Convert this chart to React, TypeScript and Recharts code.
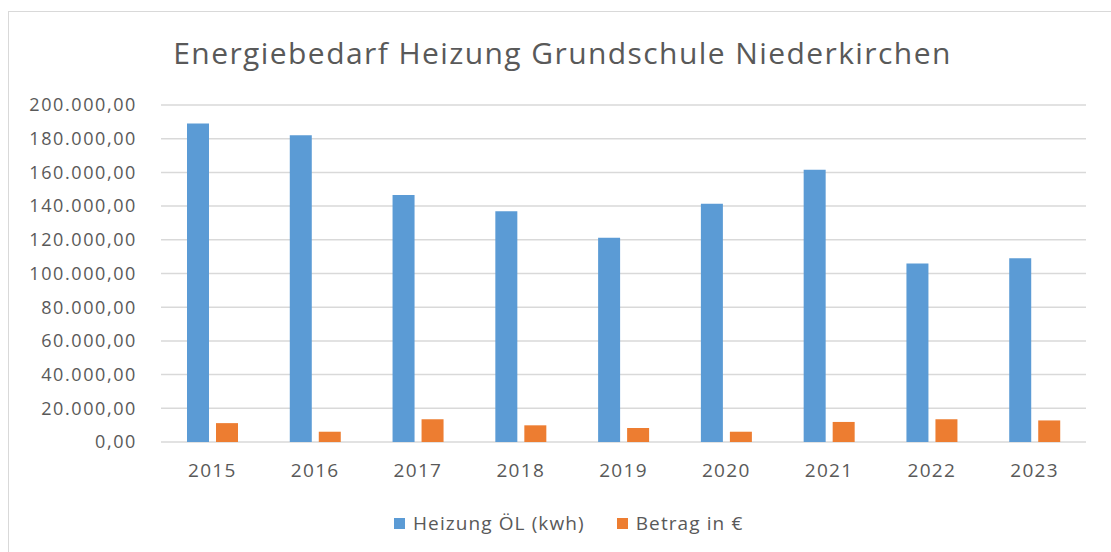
import React from 'react'
import { BarChart, Bar, XAxis, YAxis, CartesianGrid } from 'recharts'

const years = ['2015', '2016', '2017', '2018', '2019', '2020', '2021', '2022', '2023']
const heizungOel = [189000, 182000, 146600, 137000, 121200, 141400, 161600, 106000, 109000]
const betragEuro = [11200, 6100, 13500, 9900, 8300, 6100, 11900, 13500, 12800]
const yTicks = [0, 20000, 40000, 60000, 80000, 100000, 120000, 140000, 160000, 180000, 200000]

const series = [
  { key: 'oel', name: 'Heizung ÖL (kwh)', color: '#5B9BD5' },
  { key: 'betrag', name: 'Betrag in €', color: '#ED7D31' },
]

const data = years.map((year, i) => ({ year, oel: heizungOel[i], betrag: betragEuro[i] }))

const FONT = '"Open Sans", sans-serif'
const TEXT = '#595959'

// 200000 -> "200.000,00"
function deNumber(v: number) {
  const int = Math.round(v).toString().replace(/\B(?=(\d{3})+(?!\d))/g, '.')
  return `${int},00`
}

export default function App() {
  return (
    <div
      style={{
        position: 'absolute', left: 8, top: 11, width: 1102, height: 540,
        borderLeft: '1px solid #d9d9d9', borderTop: '1px solid #d9d9d9',
        background: '#fff', fontFamily: FONT,
      }}
    >
      <div
        style={{
          position: 'absolute', left: 0, top: 26, width: 1102, paddingLeft: 5,
          boxSizing: 'border-box', textAlign: 'center', fontSize: 30, lineHeight: '30px',
          color: TEXT, letterSpacing: 1.42,
        }}
      >
        Energiebedarf Heizung Grundschule Niederkirchen
      </div>

      <BarChart
        width={1102}
        height={540}
        data={data}
        margin={{ top: 93, right: 25, left: 0, bottom: 80 }}
        barSize={22}
        barGap={7}
      >
        <CartesianGrid vertical={false} stroke="#d9d9d9" strokeWidth={1.5} />
        <XAxis
          dataKey="year"
          axisLine={false}
          tickLine={false}
          tickSize={0}
          tickMargin={22}
          tick={{ fontSize: 19, fill: TEXT, fontFamily: FONT, letterSpacing: 1.3 }}
          height={30}
        />
        <YAxis
          width={152}
          domain={[0, 200000]}
          ticks={yTicks}
          interval={0}
          axisLine={false}
          tickLine={false}
          tickSize={0}
          tickMargin={24}
          tickFormatter={deNumber}
          tick={{ fontSize: 18, fill: TEXT, fontFamily: FONT, letterSpacing: 1.6 }}
        />
        {series.map(s => (
          <Bar key={s.key} dataKey={s.key} name={s.name} fill={s.color} isAnimationActive={false} />
        ))}
      </BarChart>

      <div
        style={{
          position: 'absolute', left: 385, top: 499, height: 24, display: 'flex',
          alignItems: 'center', fontSize: 19, color: TEXT, letterSpacing: 1.1,
        }}
      >
        {series.map((s, i) => (
          <div key={s.key} style={{ display: 'flex', alignItems: 'center', marginLeft: i === 0 ? 0 : 32 }}>
            <span style={{ width: 11, height: 11, background: s.color, display: 'inline-block', marginRight: 8 }} />
            <span>{s.name}</span>
          </div>
        ))}
      </div>
    </div>
  )
}
